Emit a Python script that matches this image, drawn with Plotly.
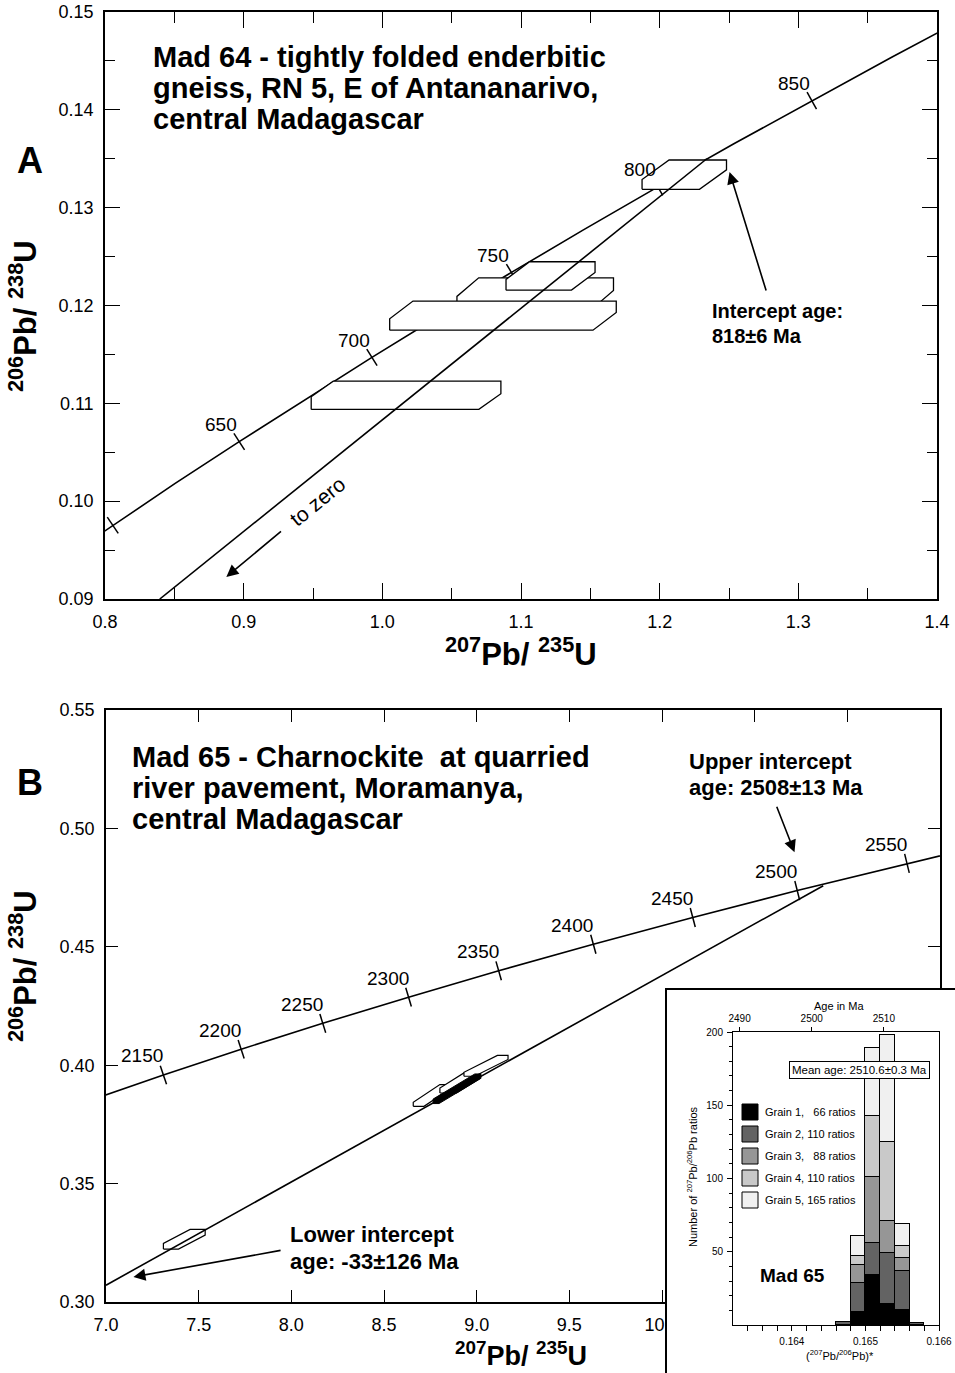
import math
import plotly.graph_objects as go

W, H = 955, 1373
FONT = "Liberation Sans, Arial, Helvetica, sans-serif"

# ---------------- Panel A data (Mad 64) ----------------
A_conc_age = [575, 600, 625, 650, 675, 700, 725, 750, 775, 800, 825, 850, 875, 900]
A_conc_x = [0.7618, 0.8056, 0.8506, 0.8968, 0.9441, 0.9925, 1.0422, 1.0931, 1.1453,
            1.1987, 1.2535, 1.3097, 1.3673, 1.4263]
A_conc_y = [0.09330, 0.09754, 0.10181, 0.10609, 0.11039, 0.11470, 0.11903, 0.12338,
            0.12775, 0.13213, 0.13653, 0.14094, 0.14538, 0.14983]
A_tick_ages = [600, 650, 700, 750, 800, 850]
A_label_ages = [650, 700, 750, 800, 850]
A_disc_x = [0.8395, 1.234]
A_disc_y = [0.0900, 0.1350]
# error boxes (drawing order: back to front)
A_box_xmin = [1.0538, 1.0053, 1.0892, 1.1873, 0.9487]
A_box_xmax = [1.1667, 1.1687, 1.1534, 1.2482, 1.0855]
A_box_ymin = [0.11963, 0.11748, 0.12157, 0.13187, 0.10938]
A_box_ymax = [0.12283, 0.12045, 0.12447, 0.13487, 0.11227]
A_box_cutx = [0.0157, 0.0168, 0.0170, 0.0195, 0.0159]
A_box_cuty = [0.0019, 0.0018, 0.0018, 0.0020, 0.0016]
A_arrow_tail = [1.2771, 0.12137]
A_arrow_tip = [1.2504, 0.13364]
A_zero_tail = [0.928, 0.09703]
A_zero_tip = [0.8875, 0.09226]

# ---------------- Panel B data (Mad 65) ----------------
B_conc_age = [2100, 2150, 2200, 2250, 2300, 2350, 2400, 2450, 2500, 2550, 2600]
B_conc_x = [6.9105, 7.3097, 7.7292, 8.1697, 8.6325, 9.1187, 9.6295, 10.1660, 10.7297,
            11.3217, 11.9436]
B_conc_y = [0.38509, 0.39587, 0.40674, 0.41769, 0.42873, 0.43986, 0.45107, 0.46237,
            0.47375, 0.48523, 0.49679]
B_tick_ages = [2150, 2200, 2250, 2300, 2350, 2400, 2450, 2500, 2550]
B_disc_x = [7.0, 10.87]
B_disc_y = [0.3071, 0.4758]
B_box_xmin = [7.3097, 8.6578, 8.8016, 8.9314]
B_box_xmax = [7.5351, 8.8595, 9.0216, 9.1692]
B_box_ymin = [0.32233, 0.38263, 0.38826, 0.39534]
B_box_ymax = [0.33064, 0.39182, 0.39674, 0.40411]
B_box_cutx = [0.1441, 0.1438, 0.1297, 0.1805]
B_box_cuty = [0.0059, 0.0075, 0.0064, 0.0071]
B_dark_box = dict(xmin=8.765, xmax=9.022, ymin=0.3838, ymax=0.3963, cutx=0.225, cuty=0.0106)
B_up_tail = [10.616, 0.50975]
B_up_tip = [10.715, 0.48996]
B_low_tail = [7.950, 0.3219]
B_low_tip = [7.148, 0.3106]

# ---------------- Inset histogram data ----------------
bin_centers = [0.1647, 0.1649, 0.1651, 0.1653, 0.1655, 0.1657]
bin_width = 0.0002
grain1 = [None, 9, 34, 14, 10, None]
grain2 = [2, 20, 22, 35, 27, 1.5]
grain3 = [None, 12, 45, 22, 9, None]
grain4 = [None, 6, 42, 54, 8, None]
grain5 = [None, 14, 46, 73, 15, None]
grain_colors = ["#000000", "#636363", "#969696", "#c9c9c9", "#f0f0f0"]
grain_labels = ["Grain 1, \u00a0\u00a066 ratios", "Grain 2, 110 ratios",
                "Grain 3, \u00a0\u00a088 ratios", "Grain 4, 110 ratios",
                "Grain 5, 165 ratios"]
age_ticks = [2490, 2500, 2510]
age_tick_ratio = [0.16329, 0.16427, 0.16525]

# ---------------- layout geometry ----------------
A_dom_x = [105 / W, 937 / W]
A_dom_y = [1 - 599 / H, 1 - 12 / H]
A_rx, A_ry = [0.8, 1.4], [0.09, 0.15]
B_dom_x = [106 / W, 940 / W]
B_dom_y = [1 - 1302 / H, 1 - 710 / H]
B_rx, B_ry = [7.0, 11.5], [0.30, 0.55]
C_dom_x = [667 / W, 1.0]
C_dom_y = [0.0, 1 - 990 / H]
I_dom_x = [733 / W, 939 / W]
I_dom_y = [1 - 1325 / H, 1 - 1032 / H]
I_rx, I_ry = [0.1632, 0.1660], [0, 200]


def P(px, py):
    return px / W, 1 - py / H


def box_poly(x0, x1, y0, y1, cx, cy):
    xs = [x0, x1 - cx, x1, x1, x0 + cx, x0, x0]
    ys = [y0, y0, y0 + cy, y1, y1, y1 - cy, y0]
    return xs, ys


def tick_angle(xs, ys, i, dom_x, dom_y, rx, ry):
    sx = (dom_x[1] - dom_x[0]) * W / (rx[1] - rx[0])
    sy = (dom_y[1] - dom_y[0]) * H / (ry[1] - ry[0])
    dx = (xs[i + 1] - xs[i - 1]) * sx
    dy = (ys[i + 1] - ys[i - 1]) * sy
    return -math.degrees(math.atan2(dy, dx))


fig = go.Figure()
LINE = dict(color="black", width=1.6)

# ---- Panel A ----
fig.add_trace(go.Scatter(x=A_conc_x, y=A_conc_y, mode="lines", line=LINE,
                         xaxis="x", yaxis="y", hoverinfo="skip"))
idx = [A_conc_age.index(a) for a in A_tick_ages]
fig.add_trace(go.Scatter(
    x=[A_conc_x[i] for i in idx], y=[A_conc_y[i] for i in idx], mode="markers",
    marker=dict(symbol="line-ns", size=14, line=dict(color="black", width=1.5),
                angle=[tick_angle(A_conc_x, A_conc_y, i, A_dom_x, A_dom_y, A_rx, A_ry) for i in idx]),
    xaxis="x", yaxis="y", hoverinfo="skip"))
for k in range(len(A_box_xmin)):
    bx, by = box_poly(A_box_xmin[k], A_box_xmax[k], A_box_ymin[k], A_box_ymax[k],
                      A_box_cutx[k], A_box_cuty[k])
    fig.add_trace(go.Scatter(x=bx, y=by, mode="lines", fill="toself", fillcolor="white",
                             line=dict(color="black", width=1.3), xaxis="x", yaxis="y",
                             hoverinfo="skip"))
fig.add_trace(go.Scatter(x=A_disc_x, y=A_disc_y, mode="lines", line=LINE,
                         xaxis="x", yaxis="y", hoverinfo="skip"))

# ---- Panel B ----
fig.add_trace(go.Scatter(x=B_conc_x, y=B_conc_y, mode="lines", line=LINE,
                         xaxis="x2", yaxis="y2", hoverinfo="skip"))
idxb = [B_conc_age.index(a) for a in B_tick_ages]
fig.add_trace(go.Scatter(
    x=[B_conc_x[i] for i in idxb], y=[B_conc_y[i] for i in idxb], mode="markers",
    marker=dict(symbol="line-ns", size=14, line=dict(color="black", width=1.5),
                angle=[tick_angle(B_conc_x, B_conc_y, i, B_dom_x, B_dom_y, B_rx, B_ry) for i in idxb]),
    xaxis="x2", yaxis="y2", hoverinfo="skip"))
for k in range(len(B_box_xmin)):
    bx, by = box_poly(B_box_xmin[k], B_box_xmax[k], B_box_ymin[k], B_box_ymax[k],
                      B_box_cutx[k], B_box_cuty[k])
    fig.add_trace(go.Scatter(x=bx, y=by, mode="lines", fill="toself", fillcolor="white",
                             line=dict(color="black", width=1.2), xaxis="x2", yaxis="y2",
                             hoverinfo="skip"))
fig.add_trace(go.Scatter(x=B_disc_x, y=B_disc_y, mode="lines", line=LINE,
                         xaxis="x2", yaxis="y2", hoverinfo="skip"))
bx, by = box_poly(B_dark_box["xmin"], B_dark_box["xmax"], B_dark_box["ymin"],
                  B_dark_box["ymax"], B_dark_box["cutx"], B_dark_box["cuty"])
fig.add_trace(go.Scatter(x=bx, y=by, mode="lines", fill="toself", fillcolor="black",
                         line=dict(color="black", width=1), xaxis="x2", yaxis="y2",
                         hoverinfo="skip"))

# ---- inset cover (white panel) ----
fig.add_trace(go.Scatter(x=[None], y=[None], xaxis="x3", yaxis="y3", hoverinfo="skip"))

# ---- inset histogram ----
for vals, col in zip([grain1, grain2, grain3, grain4, grain5], grain_colors):
    fig.add_trace(go.Bar(x=bin_centers, y=vals, width=bin_width, marker=dict(
        color=col, line=dict(color="black", width=1)), xaxis="x4", yaxis="y4",
        hoverinfo="skip"))
fig.add_trace(go.Scatter(x=[None], y=[None], xaxis="x5", yaxis="y4", hoverinfo="skip"))

# ---------------- annotations ----------------
ann = []


def text(px, py, s, size, bold=False, xanchor="center", yanchor="middle", angle=0):
    x, y = P(px, py)
    ann.append(dict(x=x, y=y, xref="paper", yref="paper",
                    text=f"<b>{s}</b>" if bold else s, showarrow=False,
                    font=dict(family=FONT, size=size, color="black"),
                    xanchor=xanchor, yanchor=yanchor, textangle=angle))


def arrow(xr, yr, tail, tip):
    ann.append(dict(x=tip[0], y=tip[1], ax=tail[0], ay=tail[1], xref=xr, yref=yr,
                    axref=xr, ayref=yr, showarrow=True, arrowhead=2, arrowsize=1.5,
                    arrowwidth=1.6, arrowcolor="black", text="", standoff=0))


# concordia age labels
for a in A_label_ages:
    i = A_conc_age.index(a)
    ann.append(dict(x=A_conc_x[i], y=A_conc_y[i], xref="x", yref="y", text=str(a),
                    showarrow=False, xshift=-18, yshift=17, xanchor="center",
                    font=dict(family=FONT, size=19, color="black")))
for a in B_tick_ages:
    i = B_conc_age.index(a)
    ann.append(dict(x=B_conc_x[i], y=B_conc_y[i], xref="x2", yref="y2", text=str(a),
                    showarrow=False, xshift=-21, yshift=19, xanchor="center",
                    font=dict(family=FONT, size=19, color="black")))

# Panel A texts
text(30, 160, "A", 36, bold=True)
for s, yy in zip(["Mad 64 - tightly folded enderbitic", "gneiss, RN 5, E of Antananarivo,",
                  "central Madagascar"], [57, 88, 119]):
    text(151, yy, s, 29, bold=True, xanchor="left")
text(710, 311, "Intercept age:", 20, bold=True, xanchor="left")
text(710, 336, "818±6 Ma", 20, bold=True, xanchor="left")
text(317, 501, "to zero", 21, angle=-39)
arrow("x", "y", A_arrow_tail, A_arrow_tip)
arrow("x", "y", A_zero_tail, A_zero_tip)
text(23, 316, "<sup>206</sup>Pb/ <sup>238</sup>U", 31, bold=True, angle=-90)
text(521, 652, "<sup>207</sup>Pb/ <sup>235</sup>U", 31, bold=True)

# Panel B texts
text(30, 783, "B", 36, bold=True)
for s, yy in zip(["Mad 65 - Charnockite \u00a0at quarried", "river pavement, Moramanya,",
                  "central Madagascar"], [757, 788, 819]):
    text(130, yy, s, 29, bold=True, xanchor="left")
text(687, 761, "Upper intercept", 22, bold=True, xanchor="left")
text(687, 787, "age: 2508±13 Ma", 22, bold=True, xanchor="left")
text(288, 1234, "Lower intercept", 22, bold=True, xanchor="left")
text(288, 1261, "age: -33±126 Ma", 22, bold=True, xanchor="left")
arrow("x2", "y2", B_up_tail, B_up_tip)
arrow("x2", "y2", B_low_tail, B_low_tip)
text(23, 966, "<sup>206</sup>Pb/ <sup>238</sup>U", 31, bold=True, angle=-90)
text(521, 1354, "<sup>207</sup>Pb/ <sup>235</sup>U", 27, bold=True)

# Inset texts
text(839, 1006, "Age in Ma", 11)
text(692, 1177, "Number of <sup>207</sup>Pb/<sup>206</sup>Pb ratios", 11, angle=-90)
text(840, 1355, "(<sup>207</sup>Pb/<sup>206</sup>Pb)*", 11)
mx, my = P(859.7, 1070)
ann.append(dict(x=mx, y=my, xref="paper", yref="paper", text="Mean age: 2510.6±0.3 Ma",
                showarrow=False, bgcolor="white", bordercolor="black", borderwidth=1,
                borderpad=2, xanchor="center", yanchor="middle",
                font=dict(family=FONT, size=11.5, color="black")))
text(792, 1275, "Mad 65", 19, bold=True)

shapes = []
leg_y = [1112, 1134, 1156, 1178, 1200]
for lab, col, yy in zip(grain_labels, grain_colors, leg_y):
    x0, y0 = P(742, yy + 8)
    x1, y1 = P(758, yy - 8)
    shapes.append(dict(type="rect", xref="paper", yref="paper", x0=x0, x1=x1, y0=y0, y1=y1,
                       fillcolor=col, line=dict(color="black", width=1), layer="above"))
    text(763, yy, lab, 11, xanchor="left")


# ---------------- axes ----------------
def frame_axis(rng, dom, anchor, dtick, fmt, ticklen, minor=None):
    d = dict(range=rng, domain=dom, anchor=anchor, showline=True, linecolor="black",
             linewidth=1.6, mirror="allticks", ticks="inside", ticklen=ticklen,
             tickwidth=1.3, tickcolor="black", dtick=dtick, tick0=rng[0],
             tickformat=fmt, showgrid=False, zeroline=False, automargin=False,
             tickfont=dict(family=FONT, size=18, color="black"), ticklabelstandoff=6)
    if minor:
        d["minor"] = dict(dtick=minor[0], ticklen=minor[1], ticks="inside", tickwidth=1.3,
                          tickcolor="black", showgrid=False)
    return d


plain = dict(showgrid=False, zeroline=False, automargin=False)

layout = dict(
    template="none",
    width=W, height=H, margin=dict(l=0, r=0, t=0, b=0, pad=0, autoexpand=False),
    paper_bgcolor="white", plot_bgcolor="white", showlegend=False,
    font=dict(family=FONT, color="black"),
    barmode="stack", bargap=0,
    xaxis=frame_axis(A_rx, A_dom_x, "y", 0.1, ".1f", 16, minor=(0.05, 11)),
    yaxis=frame_axis(A_ry, A_dom_y, "x", 0.01, ".2f", 15, minor=(0.005, 10)),
    xaxis2=frame_axis(B_rx, B_dom_x, "y2", 0.5, ".1f", 12),
    yaxis2=frame_axis(B_ry, B_dom_y, "x2", 0.05, ".2f", 12),
    xaxis3=dict(range=[0, 1], domain=C_dom_x, anchor="y3", side="top", showline=True,
                linecolor="black", linewidth=1.6, showticklabels=False, ticks="", **plain),
    yaxis3=dict(range=[0, 1], domain=C_dom_y, anchor="x3", side="left", showline=True,
                linecolor="black", linewidth=1.6, showticklabels=False, ticks="", **plain),
    xaxis4=dict(range=I_rx, domain=I_dom_x, anchor="y4", showline=True, mirror=True,
                linecolor="black", linewidth=1, ticks="outside", ticklen=5, tickwidth=1,
                tickcolor="black", dtick=0.001, tick0=0.164, tickformat=".3f",
                tickfont=dict(family=FONT, size=10, color="black"),
                ticklabelstandoff=2, **plain,
                minor=dict(tickvals=[round(0.1634 + 0.0002 * k, 4) for k in range(13)],
                           ticks="outside", ticklen=5, tickwidth=1, tickcolor="black",
                           showgrid=False)),
    yaxis4=dict(range=I_ry, domain=I_dom_y, anchor="x4", showline=True, mirror=True,
                linecolor="black", linewidth=1, ticks="outside", ticklen=5, tickwidth=1,
                tickcolor="black", tickvals=[50, 100, 150, 200],
                tickfont=dict(family=FONT, size=10, color="black"),
                ticklabelstandoff=2, **plain,
                minor=dict(tickvals=list(range(10, 200, 10)), ticks="outside", ticklen=3,
                           tickwidth=1, tickcolor="black", showgrid=False)),
    xaxis5=dict(range=I_rx, overlaying="x4", anchor="y4", side="top", showline=False,
                ticks="outside", ticklen=4, tickwidth=1, tickcolor="black",
                tickvals=age_tick_ratio, ticktext=[str(a) for a in age_ticks],
                tickfont=dict(family=FONT, size=10, color="black"),
                ticklabelstandoff=1, **plain),
    annotations=ann, shapes=shapes,
)
fig.update_layout(**layout)
fig.write_html("out.html")
